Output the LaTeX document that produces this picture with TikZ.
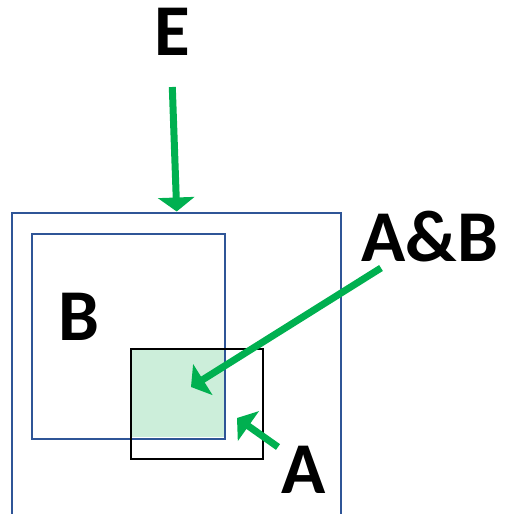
\documentclass[tikz,border=0pt]{standalone}
\usepackage{fontspec}
\setmainfont{Carlito}
\usetikzlibrary{arrows.meta}
\definecolor{boxblue}{RGB}{47,85,151}
\definecolor{arrgreen}{RGB}{0,176,80}
\definecolor{lightgreen}{RGB}{204,238,218}
\tikzset{
  box/.style={draw, rectangle, inner sep=0pt, line width=2.4pt, anchor=north west},
  bluebox/.style={box, draw=boxblue},
  blackbox/.style={box, draw=black},
  lbl/.style={inner sep=0pt, anchor=base, font=\bfseries\fontsize{73}{80}\selectfont},
  garrow/.style={draw=arrgreen, line width=7pt, -{Triangle[length=14pt,width=36pt]}},
}
\begin{document}
\begin{tikzpicture}[x=1pt,y=-1pt]
\useasboundingbox (0,0) rectangle (508,514);
% intersection fill
\node[rectangle, fill=lightgreen, inner sep=0pt, anchor=north west, minimum width=94pt, minimum height=89pt] (AB) at (130,348) {};
% rectangles
\node[bluebox, minimum width=329pt, minimum height=302pt] (Ebox) at (11,211.5) {};
\node[bluebox, minimum width=193pt, minimum height=205pt] (Bbox) at (31,232.5) {};
\node[blackbox, minimum width=132pt, minimum height=110pt] (Abox) at (130,348) {};
% labels
\node[lbl] (Elbl) at (172.5,55) {E};
\node[lbl] (ABlbl) at (430,261) {A\&B};
\node[lbl] (Blbl) at (79,340) {B};
\node[lbl] (Albl) at (304,493) {A};
% arrow ends
\coordinate (eS) at (172.3,87);
\coordinate (abS) at (381,268);
\coordinate (abT) at (191,387);
\coordinate (aS) at (278,447);
\coordinate (aT) at (237,418);
\draw[garrow] (eS) -- (Ebox.north);
\draw[garrow] (abS) -- (abT);
\draw[garrow] (aS) -- (aT);
\end{tikzpicture}
\end{document}
